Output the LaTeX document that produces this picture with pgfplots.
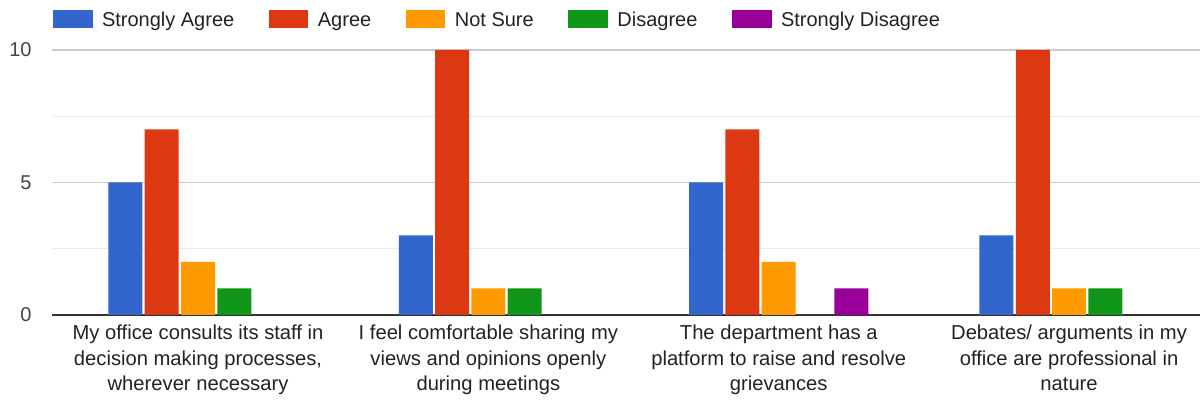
\documentclass[border=0pt]{standalone}
\usepackage{pgfplots}
\pgfplotsset{compat=1.18}
\usepackage{pgfplotstable}
\usepackage{fontspec}
\setmainfont{Liberation Sans}
\definecolor{cSA}{HTML}{3366CC}
\definecolor{cA}{HTML}{DC3912}
\definecolor{cNS}{HTML}{FF9900}
\definecolor{cD}{HTML}{109618}
\definecolor{cSD}{HTML}{990099}
\definecolor{cGrid}{HTML}{CCCCCC}
\definecolor{cMinor}{HTML}{EBEBEB}
\definecolor{cAxis}{HTML}{333333}
\definecolor{cText}{HTML}{222222}
\definecolor{cTick}{HTML}{444444}
\pgfplotstableread{
x SA A NS D SD
0 5 7 2 1 0
1 3 10 1 1 0
2 5 7 2 0 1
3 3 10 1 1 0
}\data
\begin{document}
\begin{tikzpicture}
\path[use as bounding box] (0,0) rectangle (600pt,200pt);
\begin{axis}[
  at={(26pt,42.5pt)}, anchor=south west,
  scale only axis, width=574pt, height=132.5pt,
  xmin=-0.503, xmax=3.451, ymin=0, ymax=10,
  ybar=1.15pt, bar width=17pt,
  ytick={0,5,10}, minor ytick={2.5,7.5},
  ymajorgrids, yminorgrids,
  major grid style={color=cGrid, line width=0.6pt},
  minor grid style={color=cMinor, line width=0.6pt},
  xtick={0,1,2,3},
  xticklabels={{My office consults its staff in\\decision making processes,\\wherever necessary},
               {I feel comfortable sharing my\\views and opinions openly\\during meetings},
               {The department has a\\platform to raise and resolve\\grievances},
               {Debates/ arguments in my\\office are professional in\\nature}},
  major tick length=0pt, minor tick length=0pt,
  axis x line*=bottom, axis y line*=left,
  y axis line style={draw=none},
  x axis line style={color=cAxis, line width=1pt, -},
  /pgf/number format/assume math mode=true,
  yticklabel style={font=\fontsize{10}{12}\selectfont, color=cTick, inner sep=0pt, xshift=-10pt},
  xticklabel style={font=\fontsize{10.1}{12.75}\selectfont, align=center, color=cText, inner sep=0pt, yshift=-4.8pt},
  legend columns=5,
  legend cell align=left,
  legend image code/.code={\fill[#1,draw=none] (0pt,-3.2pt) rectangle (19.8pt,5.8pt);},
  legend style={at={(0,1)}, anchor=north west, xshift=0.3pt, yshift=20.1pt,
    draw=none, fill=none, inner sep=0pt, font=\fontsize{10}{12}\selectfont, text=cText,
    nodes={inner sep=0pt, text height=7.2pt, text depth=2.1pt},
    /tikz/every odd column/.style={column sep=4.7pt},
    /tikz/every even column/.style={column sep=17.3pt}},
]
\addplot[fill=cSA, draw=none] table[x=x, y=SA]{\data};
\addplot[fill=cA, draw=none] table[x=x, y=A]{\data};
\addplot[fill=cNS, draw=none] table[x=x, y=NS]{\data};
\addplot[fill=cD, draw=none] table[x=x, y=D]{\data};
\addplot[fill=cSD, draw=none] table[x=x, y=SD]{\data};
\legend{Strongly Agree, Agree, Not Sure, Disagree, Strongly Disagree}
\end{axis}
\end{tikzpicture}
\end{document}
